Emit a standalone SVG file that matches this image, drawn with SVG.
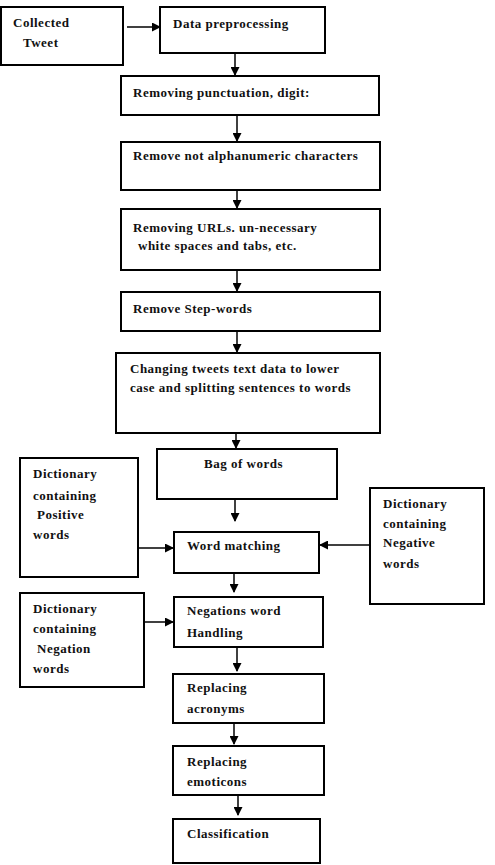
<svg xmlns="http://www.w3.org/2000/svg" width="495" height="865" viewBox="0 0 495 865">
<style>
.b{fill:#fff;stroke:#000;stroke-width:2}
.t{font-family:"Liberation Serif","Times New Roman",serif;font-size:13px;font-weight:bold;letter-spacing:0.5px;fill:#111}
.c{stroke:#000;stroke-width:1.5;fill:none;marker-end:url(#a)}
</style>
<defs>
<marker id="a" markerWidth="9" markerHeight="9" refX="8" refY="4.5" orient="auto" markerUnits="userSpaceOnUse">
<path d="M0,0 L9,4.5 L0,9 Z" fill="#000"/>
</marker>
</defs>
<rect width="495" height="865" fill="#fff"/>
<g id="connectors">
<line class="c" x1="127" y1="27" x2="160" y2="27"/>
<line class="c" x1="235" y1="54" x2="235" y2="75"/>
<line class="c" x1="237" y1="116" x2="237" y2="141"/>
<line class="c" x1="237" y1="191" x2="237" y2="208"/>
<line class="c" x1="237" y1="271" x2="237" y2="291"/>
<line class="c" x1="237" y1="332" x2="237" y2="352"/>
<line class="c" x1="236" y1="434" x2="236" y2="448"/>
<line class="c" x1="235" y1="500" x2="235" y2="521"/>
<line class="c" x1="139" y1="548" x2="173" y2="548"/>
<line class="c" x1="369" y1="545" x2="320" y2="545"/>
<line class="c" x1="234" y1="574" x2="234" y2="592"/>
<line class="c" x1="145" y1="622" x2="173" y2="622"/>
<line class="c" x1="237" y1="648" x2="237" y2="671"/>
<line class="c" x1="234" y1="724" x2="234" y2="744"/>
<line class="c" x1="238" y1="796" x2="238" y2="815"/>
</g>
<g id="collected"><rect class="b" x="1" y="7" width="122" height="58"/><text class="t" x="13" y="27">Collected</text><text class="t" x="23" y="47">Tweet</text></g>
<g id="preprocessing"><rect class="b" x="160" y="7" width="165" height="46"/><text class="t" x="173" y="28">Data preprocessing</text></g>
<g id="punctuation"><rect class="b" x="121" y="76" width="258" height="39"/><text class="t" x="133" y="97">Removing punctuation, digit:</text></g>
<g id="alphanumeric"><rect class="b" x="121" y="142" width="259" height="48"/><text class="t" x="133" y="160">Remove not alphanumeric characters</text></g>
<g id="urls"><rect class="b" x="121" y="209" width="259" height="61"/><text class="t" x="133" y="232">Removing URLs. un-necessary</text><text class="t" x="138" y="250">white spaces and tabs, etc.</text></g>
<g id="stopwords"><rect class="b" x="121" y="292" width="259" height="39"/><text class="t" x="133" y="313">Remove Step-words</text></g>
<g id="lowercase"><rect class="b" x="116" y="353" width="264" height="80"/><text class="t" x="130" y="373">Changing tweets text data to lower</text><text class="t" x="130" y="392">case and splitting sentences to words</text></g>
<g id="bag"><rect class="b" x="157" y="449" width="180" height="50"/><text class="t" x="204" y="468">Bag of words</text></g>
<g id="positive"><rect class="b" x="20" y="458" width="118" height="119"/><text class="t" x="33" y="478">Dictionary</text><text class="t" x="33" y="500">containing</text><text class="t" x="37" y="519">Positive</text><text class="t" x="33" y="539">words</text></g>
<g id="negative"><rect class="b" x="370" y="488" width="114" height="116"/><text class="t" x="383" y="508">Dictionary</text><text class="t" x="383" y="528">containing</text><text class="t" x="383" y="547">Negative</text><text class="t" x="383" y="568">words</text></g>
<g id="matching"><rect class="b" x="174" y="532" width="145" height="41"/><text class="t" x="187" y="550">Word matching</text></g>
<g id="negation-dict"><rect class="b" x="20" y="593" width="124" height="94"/><text class="t" x="33" y="613">Dictionary</text><text class="t" x="33" y="633">containing</text><text class="t" x="37" y="653">Negation</text><text class="t" x="33" y="673">words</text></g>
<g id="negations"><rect class="b" x="174" y="597" width="149" height="50"/><text class="t" x="187" y="615">Negations word</text><text class="t" x="187" y="637">Handling</text></g>
<g id="acronyms"><rect class="b" x="173" y="674" width="151" height="49"/><text class="t" x="187" y="692">Replacing</text><text class="t" x="187" y="713">acronyms</text></g>
<g id="emoticons"><rect class="b" x="173" y="746" width="151" height="49"/><text class="t" x="187" y="766">Replacing</text><text class="t" x="187" y="786">emoticons</text></g>
<g id="classification"><rect class="b" x="173" y="819" width="147" height="44"/><text class="t" x="187" y="838">Classification</text></g>
</svg>
